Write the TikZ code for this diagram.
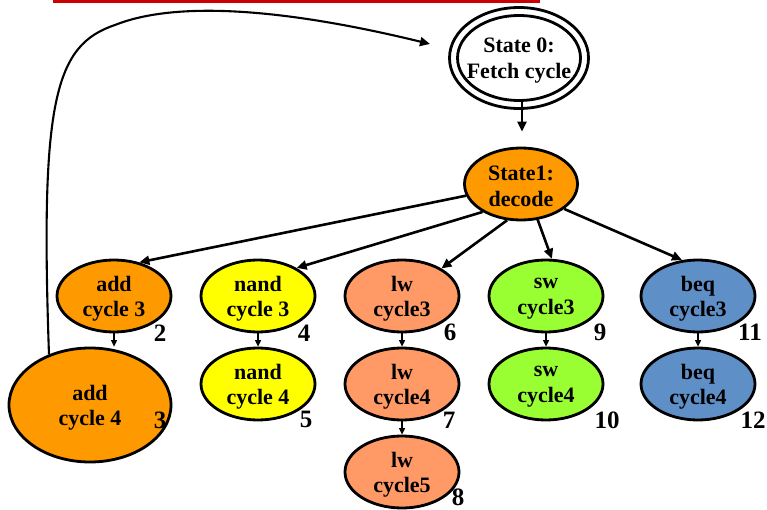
\documentclass[tikz,border=0pt]{standalone}
\usepackage{fontspec}
\setmainfont{Liberation Serif}
\usetikzlibrary{shapes.geometric,arrows.meta}
\definecolor{addorange}{HTML}{FF9900}
\definecolor{nandyellow}{HTML}{FFFF00}
\definecolor{lwsalmon}{HTML}{FF9966}
\definecolor{swgreen}{HTML}{99FF33}
\definecolor{beqblue}{HTML}{5F8FC7}
\definecolor{rulered}{HTML}{CC0000}
\tikzset{
  % ellipse of fixed size; its two-line caption is set as a centred label
  statenode/.style={ellipse, draw=black, line width=2.8pt, inner sep=0pt,
    minimum width=114pt, minimum height=72pt,
    label={[inner sep=0pt, align=center, yshift=-2.5pt,
      font=\fontsize{22}{25.5}\selectfont\bfseries]center:{#1}}},
  statenode/.default={},
  numlabel/.style={inner sep=0pt, font=\fontsize{25}{25}\selectfont\bfseries},
  bigarrow/.style={line width=2.6pt, -{Triangle[length=10pt,width=9pt]}},
  smallarrow/.style={line width=1.3pt, -{Triangle[length=6.5pt,width=6pt]}}
}
\begin{document}
\begin{tikzpicture}[x=1pt,y=-1pt]
\useasboundingbox (0,0) rectangle (767,510);
% title rule
\fill[rulered] (53,0) rectangle (540,3);

% fetch state (double ellipse)
\node[statenode, fill=white, minimum width=139pt, minimum height=101pt] (s0) at (519,58) {};
\node[statenode={State 0:\\Fetch cycle}, minimum width=123pt, minimum height=85pt] (s0in) at (519,58) {};

% decode state
\node[statenode={State1:\\decode}, fill=addorange, minimum width=113pt] (s1) at (521,184) {};

% cycle 3 row
\node[statenode={add\\cycle 3}, fill=addorange]   (add3)  at (114,296) {};
\node[statenode={nand\\cycle 3}, fill=nandyellow] (nand3) at (258,296) {};
\node[statenode={lw\\cycle3}, fill=lwsalmon]      (lw3)   at (402,296) {};
\node[statenode={sw\\cycle3}, fill=swgreen]       (sw3)   at (546,296) {};
\node[statenode={beq\\cycle3}, fill=beqblue]      (beq3)  at (698,296) {};

% cycle 4 row
\node[statenode={add\\cycle 4}, fill=addorange, minimum width=162pt, minimum height=114pt] (add4) at (90,405) {};
\node[statenode={nand\\cycle 4}, fill=nandyellow] (nand4) at (258,384) {};
\node[statenode={lw\\cycle4}, fill=lwsalmon]      (lw4)   at (402,384) {};
\node[statenode={sw\\cycle4}, fill=swgreen]       (sw4)   at (546,384) {};
\node[statenode={beq\\cycle4}, fill=beqblue]      (beq4)  at (698,384) {};

% cycle 5
\node[statenode={lw\\cycle5}, fill=lwsalmon]      (lw5)   at (402,472) {};

% state numbers
\node[numlabel] (l2)  at (160,333) {2};
\node[numlabel] (l3)  at (160,420) {3};
\node[numlabel] (l4)  at (304,333) {4};
\node[numlabel] (l5)  at (306,419) {5};
\node[numlabel] (l6)  at (450,332) {6};
\node[numlabel] (l7)  at (449,420) {7};
\node[numlabel] (l8)  at (458,497) {8};
\node[numlabel] (l9)  at (600,332) {9};
\node[numlabel] (l10) at (607,420) {10};
\node[numlabel] (l11) at (750,332) {11};
\node[numlabel] (l12) at (753,420) {12};

% fetch -> decode
\draw[bigarrow, shorten >=15pt] ([xshift=3pt]s0in.south) -- ([xshift=1pt]s1.north);

% decode -> cycle 3 states
\draw[bigarrow] (s1.192) -- (add3.53);
\draw[bigarrow] (s1.216) -- (nand3.36);
\draw[bigarrow] (s1.249) -- (lw3.35);
\draw[bigarrow] (s1.295) -- (sw3.81);
\draw[bigarrow] (s1.330) -- (beq3.114);

% within-instruction steps
\draw[smallarrow] (add3.south) -- (add3.south |- add4.north);
\draw[smallarrow] (nand3.south) -- (nand4.north);
\draw[smallarrow] (lw3.south) -- (lw4.north);
\draw[smallarrow] (lw4.south) -- (lw5.north);
\draw[smallarrow] (sw3.south) -- (sw4.north);
\draw[smallarrow] (beq3.south) -- (beq4.north);

% return to fetch
\coordinate (loopend) at (430,44);
\draw[bigarrow, line width=2.1pt] (add4.129) .. controls (40,100) and (55,45) .. (115,25)
  .. controls (170,3) and (270,5) .. (loopend);
\end{tikzpicture}
\end{document}
